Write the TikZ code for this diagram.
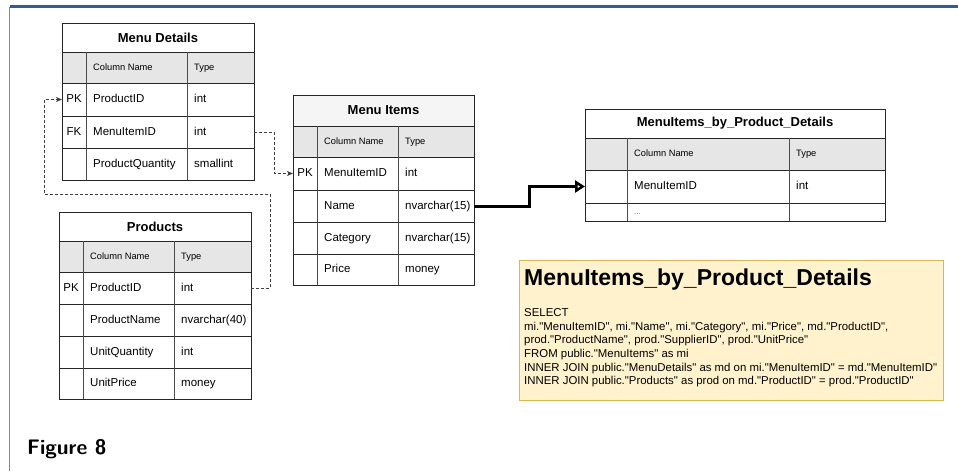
\documentclass[tikz,border=0pt]{standalone}
\usepackage{fontspec}
\setmainfont{Liberation Sans}
\newfontfamily\sqlfont{Liberation Sans}[Ligatures=TeXOff]
\usetikzlibrary{arrows.meta}
\definecolor{hdrgray}{HTML}{E6E6E6}
\definecolor{ttlgray}{HTML}{F5F5F5}
\definecolor{notefill}{HTML}{FFF2CC}
\definecolor{notedraw}{HTML}{D6B656}
\definecolor{frametop}{HTML}{2E5C99}
\definecolor{frameleft}{HTML}{6688BB}
\tikzset{
  tbox/.style={draw=black!85, line width=0.9pt, anchor=north west, inner sep=0pt, outer sep=0pt},
  ttl/.style={tbox, font=\bfseries\fontsize{13}{15}\selectfont},
  hdr/.style={tbox, fill=hdrgray},
  divider/.style={draw=black!70, line width=0.9pt},
  cellt/.style={anchor=west, inner sep=0pt, text height=8.5pt, text depth=2.5pt, font=\fontsize{11.5}{13}\selectfont},
  keyt/.style={anchor=center, inner sep=0pt, text height=8.5pt, text depth=2.5pt, font=\fontsize{11.5}{13}\selectfont},
  hdrt/.style={anchor=west, inner sep=0pt, text height=7pt, text depth=2pt, font=\fontsize{9.3}{11}\selectfont},
  fkline/.style={draw=black!75, line width=1pt, dash pattern=on 3pt off 2pt,
    -{Stealth[length=6pt,width=5pt,inset=1.5pt]}},
  viewline/.style={draw=black, line width=3pt,
    -{Triangle[open,length=10pt,width=12pt,fill=white]}},
}
\begin{document}
\begin{tikzpicture}[x=1pt,y=-1pt]
\useasboundingbox (0,0) rectangle (958,471);
% page frame
\draw[frametop, line width=2.2pt] (9.5,6.5) -- (958,6.5);
\draw[frameleft, line width=1.5pt] (9.5,6.5) -- (9.5,471);

% ---- Menu Details ----
\node[ttl, minimum width=192pt, minimum height=29pt] (mdT) at (62,23) {Menu Details};
\node[hdr, minimum width=192pt, minimum height=31pt] (mdH) at (62,52) {};
\node[tbox, minimum width=192pt, minimum height=33pt] (md1) at (62,83) {};
\node[tbox, minimum width=192pt, minimum height=32pt] (md2) at (62,116) {};
\node[tbox, minimum width=192pt, minimum height=32pt] (md3) at (62,148) {};
\draw[divider] (86,52) -- (86,180) (187,52) -- (187,180);
\node[hdrt] (mdHn) at (93,67.5) {Column Name};
\node[hdrt] (mdHt) at (194,67.5) {Type};
\node[keyt] (md1k) at (74,99.5) {PK};
\node[cellt] (md1n) at (93,99.5) {ProductID};
\node[cellt] (md1t) at (194,99.5) {int};
\node[keyt] (md2k) at (74,132) {FK};
\node[cellt] (md2n) at (93,132) {MenuItemID};
\node[cellt] (md2t) at (194,132) {int};
\node[cellt] (md3n) at (93,164) {ProductQuantity};
\node[cellt] (md3t) at (194,164) {smallint};

% ---- Products ----
\node[ttl, minimum width=192pt, minimum height=29pt] (prT) at (59,212) {Products};
\node[hdr, minimum width=192pt, minimum height=31pt] (prH) at (59,241) {};
\node[tbox, minimum width=192pt, minimum height=32pt] (pr1) at (59,272) {};
\node[tbox, minimum width=192pt, minimum height=32pt] (pr2) at (59,304) {};
\node[tbox, minimum width=192pt, minimum height=32pt] (pr3) at (59,336) {};
\node[tbox, minimum width=192pt, minimum height=31pt] (pr4) at (59,368) {};
\draw[divider] (83,241) -- (83,399) (174,241) -- (174,399);
\node[hdrt] (prHn) at (90,256.5) {Column Name};
\node[hdrt] (prHt) at (181,256.5) {Type};
\node[keyt] (pr1k) at (71,288) {PK};
\node[cellt] (pr1n) at (90,288) {ProductID};
\node[cellt] (pr1t) at (181,288) {int};
\node[cellt] (pr2n) at (90,320) {ProductName};
\node[cellt] (pr2t) at (181,320) {nvarchar(40)};
\node[cellt] (pr3n) at (90,352) {UnitQuantity};
\node[cellt] (pr3t) at (181,352) {int};
\node[cellt] (pr4n) at (90,383.5) {UnitPrice};
\node[cellt] (pr4t) at (181,383.5) {money};

% ---- Menu Items ----
\node[ttl, fill=ttlgray, minimum width=181pt, minimum height=31pt] (miT) at (293,95) {Menu Items};
\node[hdr, minimum width=181pt, minimum height=31pt] (miH) at (293,126) {};
\node[tbox, minimum width=181pt, minimum height=33pt] (mi1) at (293,157) {};
\node[tbox, minimum width=181pt, minimum height=32pt] (mi2) at (293,190) {};
\node[tbox, minimum width=181pt, minimum height=32pt] (mi3) at (293,222) {};
\node[tbox, minimum width=181pt, minimum height=31pt] (mi4) at (293,254) {};
\draw[divider] (317,126) -- (317,285) (398,126) -- (398,285);
\node[hdrt] (miHn) at (324,141.5) {Column Name};
\node[hdrt] (miHt) at (405,141.5) {Type};
\node[keyt] (mi1k) at (305,173.5) {PK};
\node[cellt] (mi1n) at (324,173.5) {MenuItemID};
\node[cellt] (mi1t) at (405,173.5) {int};
\node[cellt] (mi2n) at (324,206) {Name};
\node[cellt] (mi2t) at (405,206) {nvarchar(15)};
\node[cellt] (mi3n) at (324,238) {Category};
\node[cellt] (mi3t) at (405,238) {nvarchar(15)};
\node[cellt] (mi4n) at (324,269.5) {Price};
\node[cellt] (mi4t) at (405,269.5) {money};

% ---- MenuItems_by_Product_Details ----
\node[ttl, minimum width=300pt, minimum height=29pt] (mvT) at (585,109) {MenuItems\_by\_Product\_Details};
\node[hdr, minimum width=300pt, minimum height=32pt] (mvH) at (585,138) {};
\node[tbox, minimum width=300pt, minimum height=33pt] (mv1) at (585,170) {};
\node[tbox, minimum width=300pt, minimum height=18pt] (mv2) at (585,203) {};
\draw[divider] (627,138) -- (627,221) (789,138) -- (789,221);
\node[hdrt] (mvHn) at (634,154) {Column Name};
\node[hdrt] (mvHt) at (796,154) {Type};
\node[cellt] (mv1n) at (634,186.5) {MenuItemID};
\node[cellt] (mv1t) at (796,186.5) {int};
\node[hdrt, font=\fontsize{8}{9}\selectfont, text=black!60] (mv2n) at (634,212) {...};

% ---- view definition note ----
\node[draw=notedraw, fill=notefill, line width=1.2pt, anchor=north west, inner sep=0pt,
      minimum width=424pt, minimum height=140pt] (note) at (519,260) {};
\node[anchor=base west, inner sep=0pt, font=\bfseries\fontsize{23}{26}\selectfont] (noteT)
  at (524,285) {MenuItems\_by\_Product\_Details};
\node[anchor=north west, inner sep=0pt, align=left, font=\sqlfont\fontsize{11.4}{13.6}\selectfont] (noteB)
  at (524,308.5) {SELECT\\
mi."MenuItemID", mi."Name", mi."Category", mi."Price", md."ProductID",\\
prod."ProductName", prod."SupplierID", prod."UnitPrice"\\
FROM public."MenuItems" as mi\\
INNER JOIN public."MenuDetails" as md on mi."MenuItemID" = md."MenuItemID"\\
INNER JOIN public."Products" as prod on md."ProductID" = prod."ProductID"};

% ---- connectors ----
\coordinate (bendA) at (270,194);
\coordinate (bendB) at (44,194);
\coordinate (bendC) at (274,132);
\coordinate (bendD) at (529,206);
\draw[fkline] (pr1.east) -| (bendA) -- (bendB) |- (md1.west);
\draw[fkline] (md2.east) -- (bendC) |- (mi1.west);
\draw[viewline] (mi2.east) -- (bendD) |- (mv1.west);

% caption
\node[anchor=base west, inner sep=0pt, font=\sffamily\bfseries\fontsize{21}{24}\selectfont] (fig)
  at (27,454) {Figure 8};
\end{tikzpicture}
\end{document}
